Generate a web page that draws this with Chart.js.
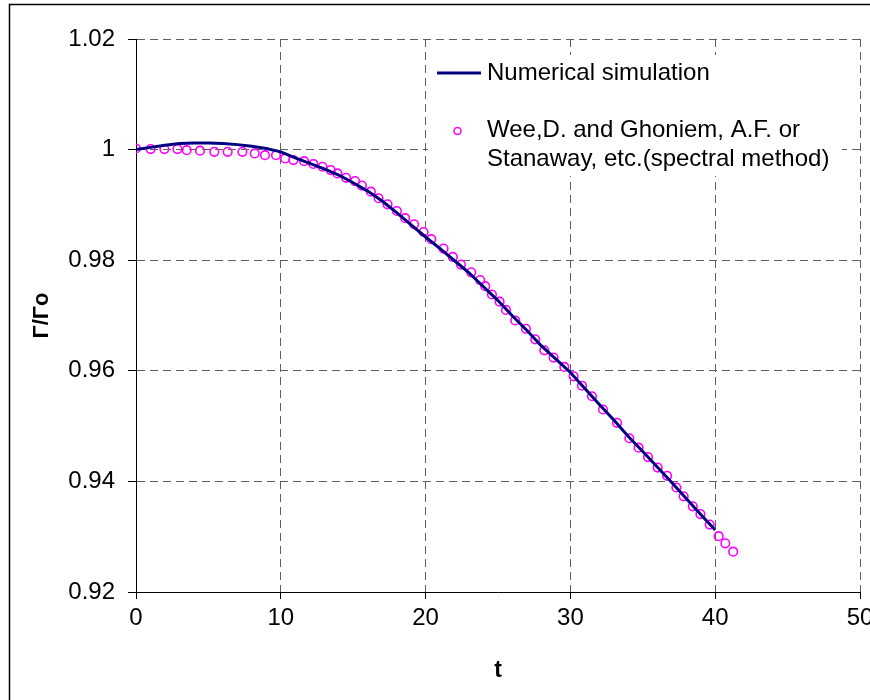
<!DOCTYPE html>
<html>
<head>
<meta charset="utf-8">
<script src="https://cdn.jsdelivr.net/npm/chart.js@4.4.0/dist/chart.umd.min.js"></script>
<style>
    body { margin: 0; background: #fff; }
    #wrap { width: 870px; height: 700px; }
</style>
</head>
<body>
<div id="wrap"><canvas id="chart" width="870" height="700"></canvas></div>
<script>
// Numerical simulation (solid line)
const simT = [0, 1, 2, 3, 4, 5, 6, 7, 8, 9, 10, 11, 12, 13, 14, 15, 16, 17, 18, 19, 20,
    21, 22, 23, 24, 25, 26, 27, 28, 29, 30, 31, 32, 33, 34, 35, 36, 37, 38, 39, 40];
const simG = [1.0000, 1.0004, 1.0008, 1.0011, 1.0012, 1.0012, 1.0011, 1.0009, 1.0006, 1.0002,
    0.9996, 0.9985, 0.9975, 0.9965, 0.9954, 0.9940, 0.9925, 0.9907, 0.9886, 0.9864,
    0.9842, 0.9821, 0.9799, 0.9777, 0.9752, 0.9727, 0.9699, 0.9673, 0.9645, 0.9621,
    0.9597, 0.9568, 0.9539, 0.9511, 0.9481, 0.9454, 0.9426, 0.9398, 0.9369, 0.9340, 0.9312];

// Spectral method reference (open circles)
const refT = [0, 1.01, 1.96, 2.86, 3.5, 4.42, 5.41, 6.33, 7.35, 8.2,
    8.91, 9.67, 10.3, 10.87, 11.61, 12.25, 12.88, 13.45, 13.91, 14.51,
    15.13, 15.6, 16.22, 16.75, 17.37, 18.02, 18.59, 19.21, 19.86, 20.39,
    21.24, 21.88, 22.44, 23.15, 23.77, 24.12, 24.58, 25.11, 25.55, 26.19,
    26.93, 27.57, 28.2, 28.84, 29.58, 30.22, 30.8, 31.49, 32.25, 33.22,
    34.07, 34.71, 35.36, 36.03, 36.68, 37.32, 37.82, 38.45, 38.98, 39.62,
    40.24, 40.7, 41.24];
const refG = [1.0002, 1.0001, 1.0001, 1.0001, 0.9999, 0.9998, 0.9996, 0.9996, 0.9996, 0.9993,
    0.9990, 0.9990, 0.9984, 0.9981, 0.9979, 0.9974, 0.9969, 0.9963, 0.9957, 0.9949,
    0.9943, 0.9935, 0.9924, 0.9912, 0.9901, 0.9889, 0.9876, 0.9865, 0.9851, 0.9838,
    0.9821, 0.9806, 0.9792, 0.9778, 0.9764, 0.9753, 0.9738, 0.9725, 0.9710, 0.9691,
    0.9676, 0.9657, 0.9637, 0.9624, 0.9607, 0.9590, 0.9573, 0.9554, 0.9530, 0.9506,
    0.9478, 0.9461, 0.9444, 0.9425, 0.9410, 0.9389, 0.9373, 0.9355, 0.9341, 0.9322,
    0.9301, 0.9288, 0.9273];

const xTickValues = [0, 10, 20, 30, 40, 50];
const yTickValues = [0.92, 0.94, 0.96, 0.98, 1.0, 1.02];
const yTickLabels = ['0.92', '0.94', '0.96', '0.98', '1', '1.02'];

const simLabel = 'Numerical simulation';
const refLabel = ['Wee,D. and Ghoniem, A.F. or', 'Stanaway, etc.(spectral method)'];

const FONT = "'Liberation Sans', Arial, sans-serif";

function toPoints(xs, ys) {
    return xs.map((x, i) => ({ x: x, y: ys[i] }));
}

// White page and the outer frame
const framePlugin = {
    id: 'frame',
    beforeDraw(chart) {
        const ctx = chart.ctx;
        ctx.save();
        ctx.fillStyle = '#fff';
        ctx.fillRect(0, 0, chart.width, chart.height);
        ctx.strokeStyle = '#000';
        ctx.lineWidth = 1.5;
        ctx.strokeRect(9.5, 4.5, chart.width + 10, chart.height + 10);
        ctx.restore();
    }
};

// Legend box inside the plot, drawn by hand (second entry spans two lines)
const legendPlugin = {
    id: 'boxLegend',
    afterDatasetsDraw(chart) {
        const ctx = chart.ctx;
        const sim = chart.data.datasets[0];
        const ref = chart.data.datasets[1];
        ctx.save();
        ctx.fillStyle = '#fff';
        ctx.fillRect(428, 55, 414, 121);

        // line sample
        ctx.strokeStyle = sim.borderColor;
        ctx.lineWidth = 3;
        ctx.beginPath();
        ctx.moveTo(437, 73);
        ctx.lineTo(481, 73);
        ctx.stroke();

        // marker sample
        ctx.strokeStyle = ref.borderColor;
        ctx.lineWidth = 1.5;
        ctx.beginPath();
        ctx.arc(457.5, 131, 3.5, 0, Math.PI * 2);
        ctx.stroke();

        ctx.fillStyle = '#000';
        ctx.font = '24px ' + FONT;
        ctx.textBaseline = 'middle';
        ctx.textAlign = 'left';
        ctx.fillText(sim.label, 487, 73);
        ctx.fillText(ref.label[0], 487, 130);
        ctx.fillText(ref.label[1], 487, 159);
        ctx.restore();
    }
};

const ctx = document.getElementById('chart').getContext('2d');
new Chart(ctx, {
    type: 'scatter',
    data: {
        datasets: [
            {
                label: simLabel,
                data: toPoints(simT, simG),
                showLine: true,
                borderColor: '#000080',
                backgroundColor: '#000080',
                borderWidth: 3,
                pointRadius: 0,
                tension: 0
            },
            {
                label: refLabel,
                data: toPoints(refT, refG),
                showLine: false,
                borderColor: '#ff00ff',
                backgroundColor: 'rgba(0,0,0,0)',
                pointRadius: 4.3,
                pointBorderWidth: 1.6
            }
        ]
    },
    options: {
        responsive: false,
        animation: false,
        layout: { padding: { left: 0, right: 10, top: 39, bottom: 0 } },
        plugins: {
            legend: { display: false },
            tooltip: { enabled: false }
        },
        scales: {
            x: {
                type: 'linear',
                min: 0,
                max: 50,
                afterBuildTicks(scale) {
                    scale.ticks = xTickValues.map(v => ({ value: v }));
                },
                afterFit(scale) {
                    scale.height = 108;
                    scale.paddingLeft = 0;
                    scale.paddingRight = 0;
                },
                grid: {
                    color: '#606060',
                    lineWidth: 1,
                    tickLength: 7,
                    tickColor: '#000',
                    tickWidth: 1
                },
                border: { display: true, color: '#000', width: 1, dash: [8, 5] },
                ticks: {
                    color: '#000',
                    font: { family: FONT, size: 24 },
                    padding: 5,
                    maxRotation: 0,
                    callback: v => String(v)
                },
                title: {
                    display: true,
                    text: 't',
                    color: '#000',
                    font: { family: FONT, size: 23, weight: 'bold' },
                    padding: { top: 0, bottom: 16 }
                }
            },
            y: {
                type: 'linear',
                min: 0.92,
                max: 1.02,
                afterBuildTicks(scale) {
                    scale.ticks = yTickValues.map(v => ({ value: v }));
                },
                afterFit(scale) {
                    scale.width = 136;
                    scale.paddingTop = 0;
                    scale.paddingBottom = 0;
                },
                grid: {
                    color: '#606060',
                    lineWidth: 1,
                    tickLength: 8,
                    tickColor: '#000',
                    tickWidth: 1
                },
                border: { display: true, color: '#000', width: 1, dash: [8, 5] },
                ticks: {
                    color: '#000',
                    font: { family: FONT, size: 24 },
                    padding: 13,
                    callback: (v, i) => yTickLabels[i]
                },
                title: {
                    display: true,
                    text: 'Γ/Γo',
                    color: '#000',
                    font: { family: FONT, size: 22, weight: 'bold' },
                    padding: { top: 29, bottom: 0 }
                }
            }
        }
    },
    plugins: [framePlugin, legendPlugin]
});
</script>
</body>
</html>
